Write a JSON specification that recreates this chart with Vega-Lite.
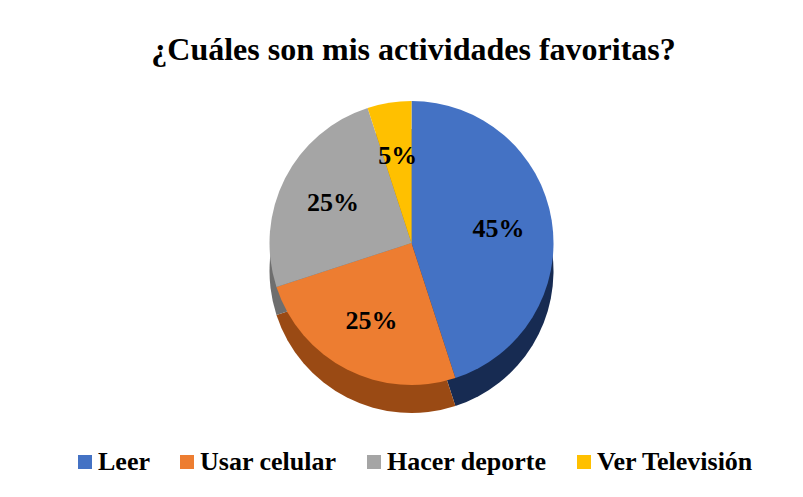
{
  "$schema": "https://vega.github.io/schema/vega-lite/v6.json",
  "autosize": {"type": "fit", "contains": "padding"},
  "width": 803,
  "height": 497,
  "padding": {"left": 10, "right": 10, "top": 34, "bottom": 18},
  "background": "white",
  "title": {
    "text": "¿Cuáles son mis actividades favoritas?",
    "font": "Liberation Serif",
    "fontSize": 32,
    "fontWeight": "bold",
    "color": "#000000",
    "anchor": "middle",
    "offset": 12,
    "dx": 12
  },
  "data": {
    "values": [
      {"actividad": "Leer", "valor": 0.45, "orden": 1},
      {"actividad": "Usar celular", "valor": 0.25, "orden": 2},
      {"actividad": "Hacer deporte", "valor": 0.25, "orden": 3},
      {"actividad": "Ver Televisión", "valor": 0.05, "orden": 4}
    ]
  },
  "encoding": {
    "theta": {"field": "valor", "type": "quantitative", "stack": true},
    "order": {"field": "orden", "type": "quantitative"}
  },
  "layer": [
    {
      "mark": {"type": "arc", "outerRadius": 142, "yOffset": -8, "xOffset": 10},
      "encoding": {
        "color": {
          "field": "actividad",
          "type": "nominal",
          "sort": ["Leer", "Usar celular", "Hacer deporte", "Ver Televisión"],
          "scale": {"range": ["#172B52", "#9A4A14", "#6E6E6E", "#A37A00"]},
          "legend": null
        }
      }
    },
    {
      "mark": {"type": "arc", "outerRadius": 142, "yOffset": -36, "xOffset": 10},
      "encoding": {
        "color": {
          "field": "actividad",
          "type": "nominal",
          "sort": ["Leer", "Usar celular", "Hacer deporte", "Ver Televisión"],
          "scale": {"range": ["#4472C4", "#ED7D31", "#A5A5A5", "#FFC000"]},
          "legend": {
            "title": null,
            "orient": "none",
            "legendX": 62,
            "legendY": 370,
            "direction": "horizontal",
            "symbolType": "square",
            "symbolSize": 196,
            "symbolStrokeWidth": 0,
            "labelFont": "Liberation Serif",
            "labelFontSize": 26,
            "labelFontWeight": "bold",
            "labelColor": "#000000",
            "labelLimit": 400,
            "columnPadding": 24,
            "labelOffset": 0
          }
        }
      }
    },
    {
      "mark": {
        "type": "text",
        "radius": 88,
        "yOffset": -36,
        "xOffset": 10,
        "font": "Liberation Serif",
        "fontSize": 26,
        "fontWeight": "bold",
        "color": "#000000"
      },
      "encoding": {
        "text": {"field": "valor", "type": "quantitative", "format": ".0%"}
      }
    }
  ],
  "resolve": {"scale": {"color": "independent"}},
  "config": {"view": {"stroke": null}}
}
